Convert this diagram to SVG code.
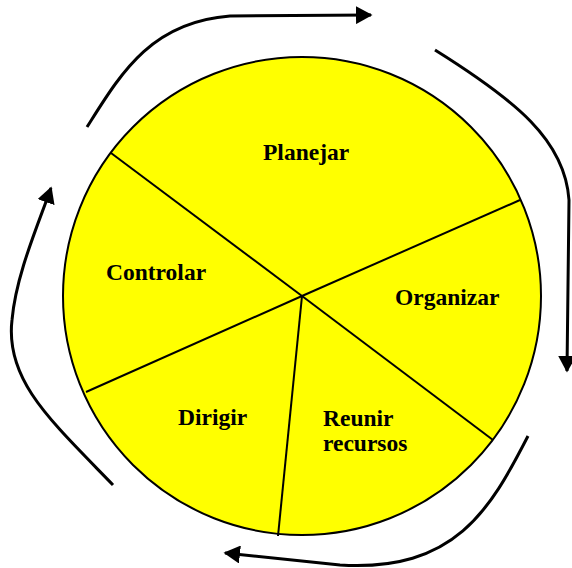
<svg xmlns="http://www.w3.org/2000/svg" width="572" height="568" viewBox="0 0 572 568">
<style>
.lbl{font-family:"Liberation Serif","Times New Roman",serif;font-weight:bold;font-size:23.5px;fill:#000}
.div{stroke:#000;stroke-width:2;fill:none}
.arr{stroke:#000;stroke-width:3;fill:none}
</style>
<defs>
<marker id="ah" markerWidth="6" markerHeight="6" refX="5" refY="3" orient="auto" markerUnits="strokeWidth">
<path d="M0,0 L5.5,3 L0,6 Z" fill="#000"/>
</marker>
</defs>
<rect width="572" height="568" fill="#fff"/>
<g id="circle">
<circle cx="302" cy="296" r="239" fill="#ffff00" stroke="#000" stroke-width="2"/>
</g>
<g id="dividers">
<line class="div" x1="302" y1="296" x2="111" y2="153"/>
<line class="div" x1="302" y1="296" x2="520" y2="200"/>
<line class="div" x1="302" y1="296" x2="493" y2="440"/>
<line class="div" x1="302" y1="296" x2="278" y2="536"/>
<line class="div" x1="302" y1="296" x2="86" y2="392"/>
</g>
<g id="planejar"><text class="lbl" x="263" y="160">Planejar</text></g>
<g id="organizar"><text class="lbl" x="395" y="305">Organizar</text></g>
<g id="controlar"><text class="lbl" x="106" y="280">Controlar</text></g>
<g id="dirigir"><text class="lbl" x="178" y="425">Dirigir</text></g>
<g id="reunir"><text class="lbl" x="323" y="426">Reunir</text><text class="lbl" x="323" y="451">recursos</text></g>
<g id="connectors">
<path class="arr" d="M87,127 C120,75 150,22 230,16 L371,15" marker-end="url(#ah)"/>
<path class="arr" d="M435,50 C515,100 565,140 569,200 L567,371" marker-end="url(#ah)"/>
<path class="arr" d="M528,436 C490,510 455,572 340,565 L225,553" marker-end="url(#ah)"/>
<path class="arr" d="M113,485 C50,420 5,380 12,320 C16,275 38,225 51,188" marker-end="url(#ah)"/>
</g>
</svg>
